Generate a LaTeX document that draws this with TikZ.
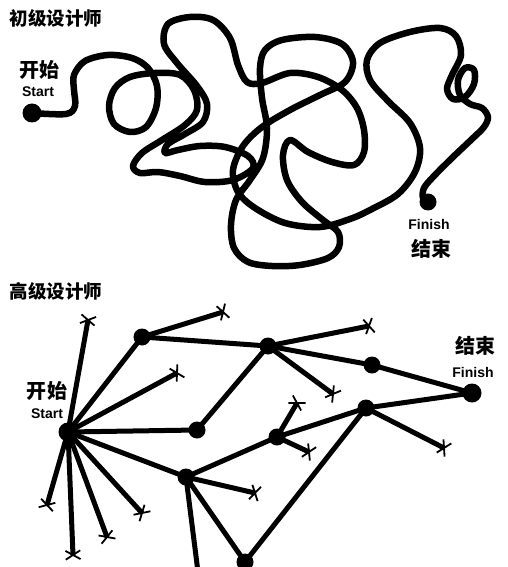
\documentclass[tikz,border=0pt]{standalone}
\usepackage{fontspec}
\setmainfont{Liberation Sans}
\newfontfamily\cjk{Noto Sans CJK SC}
\usetikzlibrary{shapes.misc}

\begin{document}
\begin{tikzpicture}[x=1pt, y=-1pt,
  dot/.style={circle, fill=black, inner sep=0pt, minimum size=17pt},
  edge/.style={line width=5pt},
  xmark/.style={cross out, draw, line width=1.8pt, minimum width=7pt, minimum height=13pt, inner sep=0pt, sloped, pos=1},
  squig/.style={line width=6.5pt, line cap=round, line join=round},
  zh/.style={font=\cjk\bfseries\fontsize{20}{22}\selectfont, inner sep=0pt},
  ttl/.style={font=\cjk\bfseries\fontsize{18.5}{20}\selectfont, inner sep=0pt},
  en/.style={font=\bfseries\fontsize{14}{15}\selectfont, inner sep=0pt}]
\clip (0,0) rectangle (508,567);
\fill[white] (0,0) rectangle (508,567);

% junior designer
\node[ttl] (t1) at (56,18) {初级设计师};
\node[zh] (s1) at (39,70) {开始};
\node[en] (s1e) at (38,92) {Start};
\node[zh] (f1) at (431,249) {结束};
\node[en] (f1e) at (429,224) {Finish};
\node[dot, minimum size=19pt] (a0) at (32,113) {};
\node[dot] (a1) at (428,202) {};
\draw[squig] plot[smooth, tension=0.55] coordinates {
  (32,113) (66,114) (75,106) (74,90) (74,75) (85,61) (108,55) (132,58)
  (148,68) (157,86) (156,108) (146,127) (130,132) (114,124) (109,106)
  (115,88) (130,77) (155,73) (180,75) (194,90) (197,110) (185,125)
  (162,140) (142,153) (133,166) (140,173) (158,172) (180,176) (205,182)
  (233,180) (253,168) (248,156) (225,147) (200,146) (178,150) (165,153)
  (168,144) (185,134) (203,122) (207,104) (197,86) (177,63) (164,44)
  (168,24) (190,17) (213,20) (230,38) (238,65) (247,82) (262,83) (290,73)
  (318,77) (342,90) (357,108) (364,130) (364,152) (354,165) (332,162)
  (308,152) (290,140) (283,155) (287,180) (302,202) (323,220) (338,232)
  (339,247) (328,258) (300,265) (272,266) (248,262) (234,248) (231,225)
  (236,200) (250,180) (263,158) (267,128) (262,98) (260,68) (265,50)
  (282,40) (315,37) (342,44) (353,62) (345,82) (320,95) (290,110)
  (262,127) (243,146) (233,170) (238,192) (255,208) (285,223) (320,227)
  (350,219) (372,209) (398,194) (415,172) (420,148) (410,123) (388,101)
  (370,80) (367,60) (380,43) (410,32) (440,28) (456,36) (461,55) (452,75)
  (447,89) (453,99) (465,97) (474,84) (474,70) (465,68) (458,80)
  (460,95) (470,104) (482,108) (488,117) (484,127) (472,139) (453,157)
  (434,176) (424,188) (423,198) (428,202)};

% senior designer
\node[ttl] (t2) at (56,291) {高级设计师};
\node[zh] (s2) at (47,391) {开始};
\node[en] (s2e) at (47,414) {Start};
\node[zh] (f2) at (475,346) {结束};
\node[en] (f2e) at (473,372) {Finish};

\node[dot, minimum size=19pt] (st) at (68,432) {};
\node[dot] (na) at (142,337) {};
\node[dot] (nb) at (197,430) {};
\node[dot] (nc) at (186,477) {};
\node[dot] (nd) at (268,346) {};
\node[dot] (ne) at (372,365) {};
\node[dot, minimum size=19pt] (fi) at (472,393) {};
\node[dot] (ng) at (366,408) {};
\node[dot] (nh) at (277,437) {};
\node[dot] (ni) at (245,562) {};
\coordinate (x1) at (88,320);
\coordinate (x2) at (177,373);
\coordinate (x3) at (47,505);
\coordinate (x4) at (73,555);
\coordinate (x5) at (107,537);
\coordinate (x6) at (142,513);
\coordinate (x7) at (223,312);
\coordinate (x8) at (369,326);
\coordinate (x9) at (333,394);
\coordinate (x10) at (444,448);
\coordinate (x11) at (297,403);
\coordinate (x12) at (309,452);
\coordinate (x13) at (255,493);
\coordinate (cut) at (199,580);

\draw[edge] (st.center) -- (na.center);
\draw[edge] (st.center) -- (nb.center);
\draw[edge] (st.center) -- (nc.center);
\draw[edge] (na.center) -- (nd.center);
\draw[edge] (nb.center) -- (nd.center);
\draw[edge] (nd.center) -- (ne.center);
\draw[edge] (ne.center) -- (fi.center);
\draw[edge] (ng.center) -- (fi.center);
\draw[edge] (nh.center) -- (ng.center);
\draw[edge] (nc.center) -- (nh.center);
\draw[edge] (nc.center) -- (ni.center);
\draw[edge] (ni.center) -- (ng.center);
\draw[edge] (nc.center) -- (cut);
\foreach \a/\b in {st/x1, st/x2, st/x3, st/x4, st/x5, st/x6, na/x7, nd/x8,
                   nd/x9, ng/x10, nh/x11, nh/x12, nc/x13}
  \draw[edge] (\a.center) -- (\b) node[xmark] {};
\end{tikzpicture}
\end{document}
